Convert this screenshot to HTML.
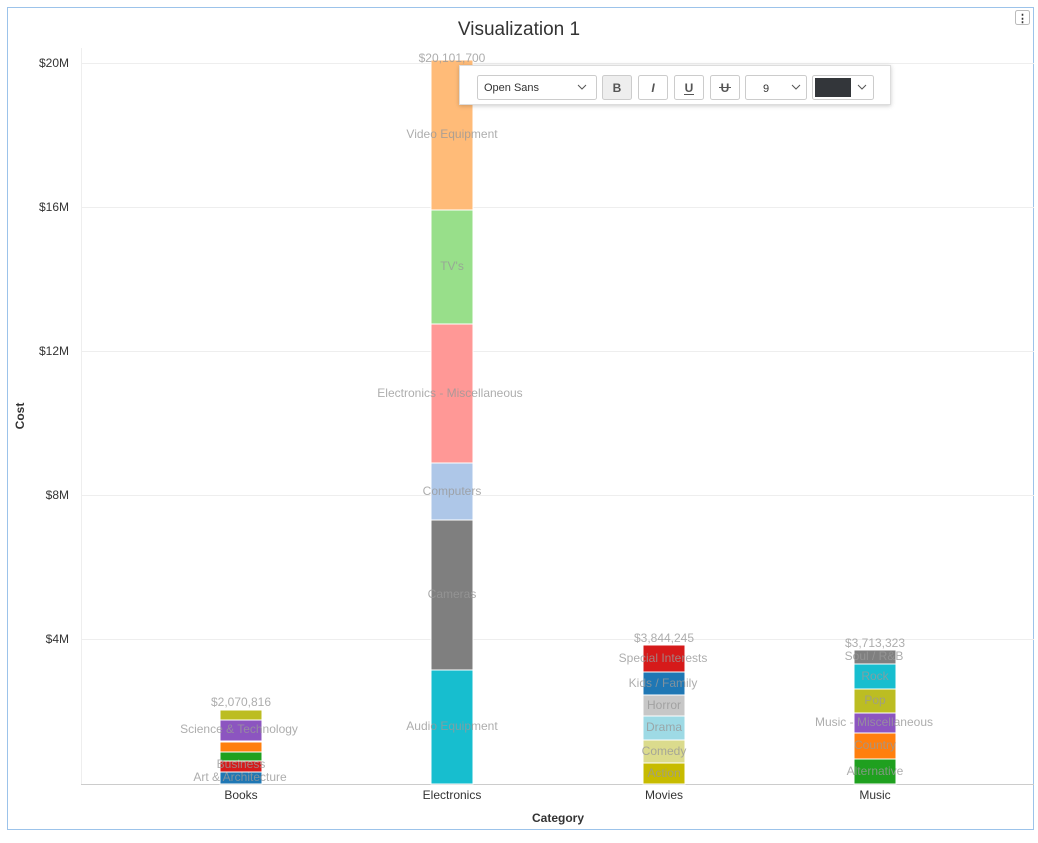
<!DOCTYPE html>
<html><head><style>
body{margin:0;background:#fff;font-family:"Liberation Sans",sans-serif;}
</style></head><body>
<svg width="1038" height="838" xmlns="http://www.w3.org/2000/svg" font-family="Liberation Sans, sans-serif">
<defs><filter id="sh" x="-5%" y="-30%" width="110%" height="160%"><feDropShadow dx="0" dy="1" stdDeviation="2" flood-color="#000" flood-opacity="0.2"/></filter></defs>
<rect x="7.5" y="7.5" width="1026" height="822" fill="#fff" stroke="#9cc3ea"/>
<text x="519" y="35" text-anchor="middle" font-size="19" fill="#333">Visualization 1</text>
<rect x="1015.5" y="10.5" width="14" height="14" fill="#fff" stroke="#bbb" rx="2"/>
<text x="1022.5" y="22" text-anchor="middle" font-size="11" fill="#333" font-weight="bold">⋮</text>
<g stroke="#eee" stroke-width="1">
<line x1="81" x2="1034" y1="63.5" y2="63.5"/><line x1="81" x2="1034" y1="207.5" y2="207.5"/>
<line x1="81" x2="1034" y1="351.5" y2="351.5"/><line x1="81" x2="1034" y1="495.5" y2="495.5"/>
<line x1="81" x2="1034" y1="639.5" y2="639.5"/>
</g>
<line x1="81.5" x2="81.5" y1="48" y2="784" stroke="#eee"/>
<line x1="81" x2="1034" y1="784.5" y2="784.5" stroke="#ccc"/>
<g font-size="12" fill="#333" text-anchor="end">
<text x="69" y="67">$20M</text><text x="69" y="211">$16M</text><text x="69" y="355">$12M</text>
<text x="69" y="499">$8M</text><text x="69" y="643">$4M</text>
</g>
<g font-size="12" fill="#333" text-anchor="middle">
<text x="241" y="799">Books</text><text x="452" y="799">Electronics</text>
<text x="664" y="799">Movies</text><text x="875" y="799">Music</text>
</g>
<text x="558" y="822" text-anchor="middle" font-size="12" font-weight="bold" fill="#333">Category</text>
<text transform="translate(24,416) rotate(-90)" text-anchor="middle" font-size="12" font-weight="bold" fill="#333">Cost</text>
<g stroke="#fff" stroke-width="1">
<rect x="220" y="710" width="42" height="10" fill="#bcbd22"/>
<rect x="220" y="720" width="42" height="21" fill="#8c55c0"/>
<rect x="220" y="742" width="42" height="10" fill="#ff7f0e"/>
<rect x="220" y="752" width="42" height="9" fill="#1fa01f"/>
<rect x="220" y="761" width="42" height="11" fill="#d61a1a"/>
<rect x="220" y="772" width="42" height="12" fill="#1f77b4"/>
<rect x="431" y="60" width="42" height="150" fill="#ffbb78"/>
<rect x="431" y="210" width="42" height="114" fill="#98df8a"/>
<rect x="431" y="324" width="42" height="139" fill="#ff9896"/>
<rect x="431" y="463" width="42" height="57" fill="#aec7e8"/>
<rect x="431" y="520" width="42" height="150" fill="#7f7f7f"/>
<rect x="431" y="670" width="42" height="114" fill="#17becf"/>
<rect x="643" y="645" width="42" height="27" fill="#d61a1a"/>
<rect x="643" y="672" width="42" height="23" fill="#1f77b4"/>
<rect x="643" y="695" width="42" height="21" fill="#c7c7c7"/>
<rect x="643" y="716" width="42" height="24" fill="#9edae5"/>
<rect x="643" y="740" width="42" height="23" fill="#dbdb8d"/>
<rect x="643" y="763" width="42" height="21" fill="#c7bb00"/>
<rect x="854" y="650" width="42" height="14" fill="#7f7f7f"/>
<rect x="854" y="664" width="42" height="25" fill="#17becf"/>
<rect x="854" y="689" width="42" height="24" fill="#bcbd22"/>
<rect x="854" y="713" width="42" height="20" fill="#8c55c0"/>
<rect x="854" y="733" width="42" height="26" fill="#ff7f0e"/>
<rect x="854" y="759" width="42" height="25" fill="#1fa01f"/>
</g>
<g font-size="12" fill="#999" fill-opacity="0.8" text-anchor="middle">
<text x="241" y="706">$2,070,816</text>
<text x="239" y="733">Science &amp; Technology</text>
<text x="241" y="768">Business</text>
<text x="240" y="781">Art &amp; Architecture</text>
<text x="452" y="62">$20,101,700</text>
<text x="452" y="138">Video Equipment</text>
<text x="452" y="270">TV's</text>
<text x="450" y="397">Electronics - Miscellaneous</text>
<text x="452" y="495">Computers</text>
<text x="452" y="598">Cameras</text>
<text x="452" y="730">Audio Equipment</text>
<text x="664" y="642">$3,844,245</text>
<text x="663" y="662">Special Interests</text>
<text x="663" y="687">Kids / Family</text>
<text x="664" y="709">Horror</text>
<text x="664" y="731">Drama</text>
<text x="664" y="755">Comedy</text>
<text x="664" y="777">Action</text>
<text x="875" y="647">$3,713,323</text>
<text x="874" y="660">Soul / R&amp;B</text>
<text x="875" y="680">Rock</text>
<text x="875" y="704">Pop</text>
<text x="874" y="726">Music - Miscellaneous</text>
<text x="875" y="749">Country</text>
<text x="875" y="775">Alternative</text>
</g>
<rect x="459.5" y="65.5" width="431" height="39" fill="#fff" stroke="#ddd" filter="url(#sh)"/>
<rect x="477.5" y="75.5" width="119" height="24" fill="#fff" stroke="#ccc" rx="2"/>
<text x="484" y="91" font-size="11" fill="#333">Open Sans</text>
<path d="M578 85 l4 4 l4 -4" fill="none" stroke="#555"/>
<rect x="602.5" y="75.5" width="29" height="24" fill="#eee" stroke="#ccc" rx="2"/>
<text x="617" y="92" text-anchor="middle" font-size="12" font-weight="bold" fill="#555">B</text>
<rect x="638.5" y="75.5" width="29" height="24" fill="#fff" stroke="#ccc" rx="2"/>
<text x="653" y="92" text-anchor="middle" font-size="12" font-weight="bold" font-style="italic" fill="#555">I</text>
<rect x="674.5" y="75.5" width="29" height="24" fill="#fff" stroke="#ccc" rx="2"/>
<text x="689" y="92" text-anchor="middle" font-size="12" font-weight="bold" fill="#555">U</text>
<line x1="684" x2="694" y1="94.5" y2="94.5" stroke="#555"/>
<rect x="710.5" y="75.5" width="29" height="24" fill="#fff" stroke="#ccc" rx="2"/>
<text x="725" y="92" text-anchor="middle" font-size="12" font-weight="bold" fill="#555">U</text>
<line x1="719" x2="731" y1="87.5" y2="87.5" stroke="#555"/>
<rect x="745.5" y="75.5" width="61" height="24" fill="#fff" stroke="#ccc" rx="2"/>
<text x="766" y="92" text-anchor="middle" font-size="11" fill="#333">9</text>
<path d="M792 85 l4 4 l4 -4" fill="none" stroke="#555"/>
<rect x="812.5" y="75.5" width="61" height="24" fill="#fff" stroke="#ccc" rx="2"/>
<rect x="815" y="78" width="36" height="19" fill="#33363a"/>
<path d="M858 85 l4 4 l4 -4" fill="none" stroke="#555"/>
</svg>
</body></html>
